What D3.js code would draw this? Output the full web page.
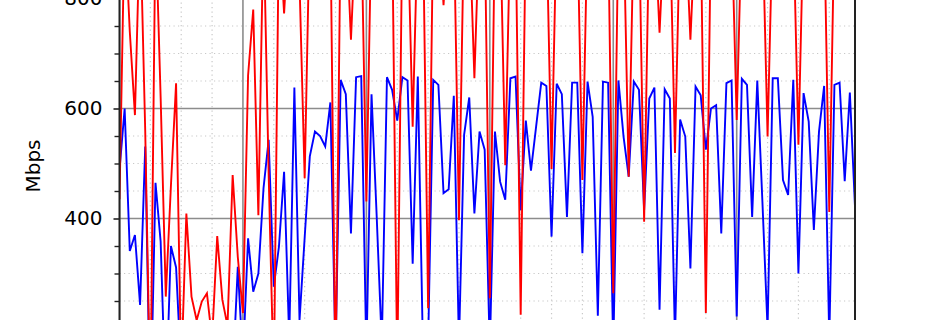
<!DOCTYPE html>
<html>
<head>
<meta charset="utf-8">
<script src="https://cdn.jsdelivr.net/npm/d3@7"></script>
<style>
  body { margin: 0; background: #fff; }
  svg { display: block; }
</style>
</head>
<body>
<script>
// throughput samples, one every step (index 0..143)
const upload = [
  488, 600, 341, 370, 243, 531, 30, 465, 358, 60, 350, 311, 120, 150, 110, 130,
  90, 140, 120, 100, 150, 130, 110, 312, 140, 364, 267, 300, 455, 543, 276, 349,
  485, 180, 638, 215, 365, 513, 558, 550, 531, 611, 150, 652, 626, 373, 657, 659,
  150, 626, 405, 170, 657, 634, 578, 657, 651, 318, 658, 160, 170, 652, 643, 446,
  453, 623, 170, 552, 620, 409, 558, 525, 160, 558, 467, 434, 655, 658, 415, 578,
  487, 567, 647, 641, 367, 645, 626, 403, 647, 647, 337, 649, 585, 223, 649, 647,
  160, 651, 549, 476, 649, 634, 415, 618, 638, 234, 635, 618, 180, 580, 549, 309,
  640, 624, 525, 600, 606, 373, 646, 651, 222, 654, 643, 403, 651, 430, 200, 655,
  655, 470, 443, 652, 300, 628, 576, 379, 558, 641, 180, 643, 647, 468, 629, 421
];
const download = [
  435, 940, 740, 588, 945, 560, 60, 940, 620, 258, 460, 646, 120, 409, 258, 215,
  249, 264, 180, 368, 252, 205, 479, 330, 228, 660, 780, 406, 940, 480, 100, 940,
  773, 940, 945, 830, 473, 940, 945, 940, 942, 940, 100, 940, 945, 725, 940, 942,
  431, 945, 940, 942, 940, 945, 120, 940, 945, 567, 940, 942, 237, 940, 945, 788,
  940, 942, 397, 945, 940, 655, 945, 942, 255, 940, 945, 497, 940, 942, 225, 940,
  945, 940, 942, 940, 490, 945, 940, 942, 940, 945, 470, 940, 942, 940, 945, 940,
  264, 940, 942, 476, 940, 945, 394, 940, 942, 738, 940, 945, 519, 940, 942, 725,
  940, 945, 228, 940, 942, 940, 945, 940, 579, 942, 940, 945, 940, 942, 549, 940,
  945, 940, 942, 940, 534, 945, 940, 942, 940, 945, 412, 940, 942, 940, 945, 940
];
const yMajor = [200, 400, 600, 800, 1000];
const yLabels = [400, 600, 800];
const yMinor = d3.range(200, 1001, 50).filter(v => v % 200 !== 0);
const xMajor = d3.range(0, 145, 24);
const xMinor = d3.range(0, 145, 6).filter(v => v % 24 !== 0);
const yLabel = "Mbps";

const width = 950;
const height = 320;
const left = 119.5;
const right = 855;

const x = d3.scaleLinear().domain([0, upload.length - 1]).range([left, right]);
const y = d3.scaleLinear().domain([0, 1000]).range([438.5, -111.5]);

const svg = d3
  .select("body")
  .append("svg")
  .attr("width", width)
  .attr("height", height)
  .attr("viewBox", `0 0 ${width} ${height}`);

svg
  .append("defs")
  .append("clipPath")
  .attr("id", "plot")
  .append("rect")
  .attr("x", left)
  .attr("y", -200)
  .attr("width", right - left)
  .attr("height", 800);

const grid = svg.append("g").attr("clip-path", "url(#plot)");

grid
  .selectAll("line.hminor")
  .data(yMinor)
  .join("line")
  .attr("x1", left)
  .attr("x2", right)
  .attr("y1", d => y(d))
  .attr("y2", d => y(d))
  .attr("stroke", "#c8c8c8")
  .attr("stroke-width", 1.2)
  .attr("stroke-dasharray", "1.2,3.3");

grid
  .selectAll("line.vminor")
  .data(xMinor)
  .join("line")
  .attr("x1", d => x(d))
  .attr("x2", d => x(d))
  .attr("y1", -200)
  .attr("y2", 600)
  .attr("stroke", "#c8c8c8")
  .attr("stroke-width", 1.2)
  .attr("stroke-dasharray", "1.2,3.3");

grid
  .selectAll("line.hmajor")
  .data(yMajor)
  .join("line")
  .attr("x1", left)
  .attr("x2", right)
  .attr("y1", d => y(d))
  .attr("y2", d => y(d))
  .attr("stroke", "#8c8c8c")
  .attr("stroke-width", 1.6);

grid
  .selectAll("line.vmajor")
  .data(xMajor)
  .join("line")
  .attr("x1", d => x(d))
  .attr("x2", d => x(d))
  .attr("y1", -200)
  .attr("y2", 600)
  .attr("stroke", "#8c8c8c")
  .attr("stroke-width", 1.6);

const line = d3
  .line()
  .x((d, i) => x(i))
  .y(d => y(d));

const plot = svg.append("g").attr("clip-path", "url(#plot)");

plot
  .append("path")
  .datum(upload)
  .attr("fill", "none")
  .attr("stroke", "#0000ff")
  .attr("stroke-width", 1.9)
  .attr("d", line);

plot
  .append("path")
  .datum(download)
  .attr("fill", "none")
  .attr("stroke", "#ff0000")
  .attr("stroke-width", 1.9)
  .attr("d", line);

// left axis: major ticks with labels, then minor ticks
const axisMajor = svg
  .append("g")
  .attr("transform", `translate(${left},0)`)
  .call(
    d3
      .axisLeft(y)
      .tickValues(yMajor)
      .tickFormat(d => (yLabels.includes(d) ? d : ""))
      .tickSize(6)
      .tickPadding(11)
      .tickSizeOuter(0)
  );
axisMajor.select(".domain").remove();
axisMajor.selectAll("line").attr("stroke", "#222").attr("stroke-width", 1.6);
axisMajor
  .selectAll("text")
  .attr("fill", "#000")
  .style("font-family", "DejaVu Sans")
  .style("font-size", "20px");

const axisMinor = svg
  .append("g")
  .attr("transform", `translate(${left},0)`)
  .call(d3.axisLeft(y).tickValues(yMinor).tickSize(5).tickFormat("").tickSizeOuter(0));
axisMinor.select(".domain").remove();
axisMinor.selectAll("line").attr("stroke", "#222").attr("stroke-width", 1.4);

// spines
svg
  .append("line")
  .attr("x1", left)
  .attr("x2", left)
  .attr("y1", -200)
  .attr("y2", 600)
  .attr("stroke", "#222")
  .attr("stroke-width", 2);
svg
  .append("line")
  .attr("x1", right)
  .attr("x2", right)
  .attr("y1", -200)
  .attr("y2", 600)
  .attr("stroke", "#222")
  .attr("stroke-width", 2);

svg
  .append("text")
  .attr("transform", "translate(40,166) rotate(-90)")
  .attr("text-anchor", "middle")
  .style("font-family", "DejaVu Sans")
  .style("font-size", "20px")
  .attr("fill", "#000")
  .text(yLabel);
</script>
</body>
</html>
